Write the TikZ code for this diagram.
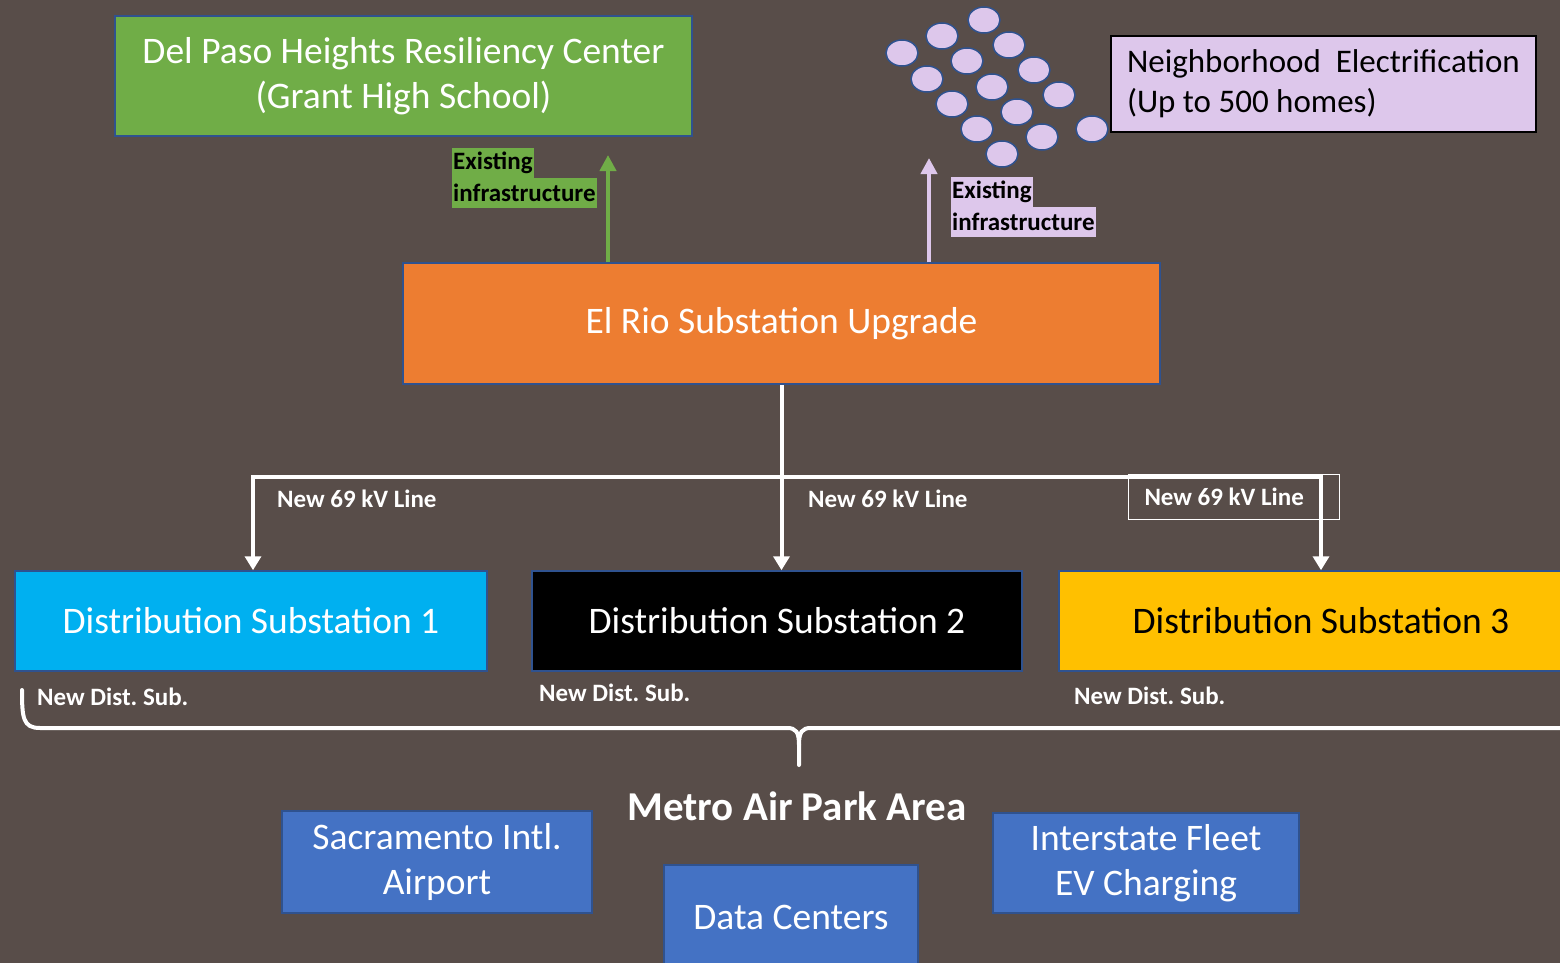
\documentclass[tikz,border=0pt]{standalone}
\usepackage{fontspec}
\setmainfont{Carlito}
\usepackage{tikz}
\usetikzlibrary{arrows.meta}
\frenchspacing

\definecolor{fundal}{RGB}{88,77,73}
\definecolor{verde}{RGB}{112,173,71}
\definecolor{lila}{RGB}{221,199,235}
\definecolor{portocaliu}{RGB}{237,125,49}
\definecolor{cyan1}{RGB}{0,176,240}
\definecolor{galben}{RGB}{255,192,0}
\definecolor{albastru}{RGB}{68,114,196}
\definecolor{contur}{RGB}{47,82,143}

\begin{document}
\begin{tikzpicture}[x=1pt, y=-1pt, >={Triangle[length=14pt, width=16pt]}]
        \tikzstyle{every node} = [font=\fontsize{37.5}{45}\selectfont]
        \tikzstyle{cutie}      = [draw=contur, line width=1.5pt, inner sep=0pt, align=center]
        \tikzstyle{eticheta}   = [text=white, inner sep=0pt, anchor=west, font=\bfseries\fontsize{25}{30}\selectfont]
        \tikzstyle{existent}   = [text=black, inner xsep=1pt, inner ysep=0pt, minimum height=30, anchor=west, font=\bfseries\fontsize{25}{30}\selectfont]
        \tikzstyle{linie}      = [draw=white, line width=4pt]
        \tikzstyle{sageata}    = [line width=4.5pt, -{Triangle[length=16pt, width=16pt]}]
        \tikzstyle{cerc}       = [draw=contur, fill=lila, line width=1.5pt]

        \fill[fundal] (0,0) rectangle (1560,963);
        \useasboundingbox (0,0) rectangle (1560,963);

        % Cutiile de sus.
        \node[cutie, fill=verde, text=white, minimum width=577, minimum height=120] (centru) at (403.5,76)
            {Del Paso Heights Resiliency Center\\(Grant High School)};
        \node[cutie, draw=black, fill=lila, text=black, align=flush left, inner xsep=16, text width=393,
              minimum height=96, font=\fontsize{33}{40}\selectfont] (cartier) at (1323.5,84)
            {Neighborhood\ \ Electrification\\(Up to 500 homes)};

        % Locuintele.
        \foreach \x/\y in {984/20, 942/36, 1009/45, 902/53, 967/61, 1034/70, 927/79, 992/87,
                           1059/95, 952/104, 1017/112, 977/129, 1042/137, 1092/129, 1002/154}
            \draw[cerc] (\x,\y) ellipse [x radius=16, y radius=13];

        \node[cutie, fill=portocaliu, text=white, minimum width=757, minimum height=121] (elrio) at (781.5,323.5)
            {El Rio Substation Upgrade};

        % Infrastructura existenta.
        \coordinate (varfverde) at (608,155);
        \coordinate (varflila)  at (929,158);
        \draw[sageata, draw=verde] (elrio.north -| varfverde) -- (varfverde);
        \draw[sageata, draw=lila]  (elrio.north -| varflila) -- (varflila);
        \node[existent, fill=verde] (exv1) at (452,163) {Existing};
        \node[existent, fill=verde] (exv2) at (452,193) {infrastructure};
        \node[existent, fill=lila]  (exl1) at (951,192) {Existing};
        \node[existent, fill=lila]  (exl2) at (951,222) {infrastructure};

        % Statiile de distributie.
        \node[cutie, fill=cyan1, text=white, minimum width=472, minimum height=100] (dist1) at (251,621)
            {Distribution Substation 1};
        \node[cutie, fill=black, text=white, minimum width=490, minimum height=100] (dist2) at (777,621)
            {Distribution Substation 2};
        \node[cutie, fill=galben, text=black, minimum width=524, minimum height=100] (dist3) at (1321,621)
            {Distribution Substation 3};

        % Liniile noi.
        \coordinate (stanga)  at (253,477);
        \coordinate (dreapta) at (1321,477);
        \draw[linie, ->] (elrio.south) -- (elrio.south |- dist2.north);
        \draw[linie, <->] (stanga |- dist1.north) -- (stanga) -- (dreapta) -- (dreapta |- dist3.north);
        \node[eticheta] (l1) at (277,499) {New 69 kV Line};
        \node[eticheta] (l2) at (808,499) {New 69 kV Line};
        \node[eticheta, draw=white, line width=1pt, minimum height=45] (l3) at (1128,496.5)
            {\makebox[211pt][l]{\hspace{16pt}New 69 kV Line}};

        \node[eticheta] (n1) at (37,697)  {New Dist. Sub.};
        \node[eticheta] (n2) at (539,693) {New Dist. Sub.};
        \node[eticheta] (n3) at (1074,696) {New Dist. Sub.};

        % Desenarea acoladei.
        \tikzstyle{acol} = [draw=white, line width=4pt, line cap=round]
        \draw[acol] (22,690) .. controls (22,718) and (23,728) .. (40,728) -- (787,728)
            .. controls (796,728) and (799,732) .. (799,745) -- (799,765);
        \draw[acol] (799,745) .. controls (799,732) and (802,728) .. (811,728) -- (1580,728);

        % Zona Metro Air Park.
        \node[text=white, font=\bfseries\fontsize{41}{48}\selectfont] (zona) at (797,806) {Metro Air Park Area};
        \node[cutie, fill=albastru, text=white, minimum width=310, minimum height=102] (aeroport) at (437,862)
            {Sacramento Intl.\\Airport};
        \node[cutie, fill=albastru, text=white, minimum width=254, minimum height=105] (date) at (791,917.5)
            {Data Centers};
        \node[cutie, fill=albastru, text=white, minimum width=306, minimum height=100] (flota) at (1146,863)
            {Interstate Fleet\\EV Charging};
\end{tikzpicture}
\end{document}
